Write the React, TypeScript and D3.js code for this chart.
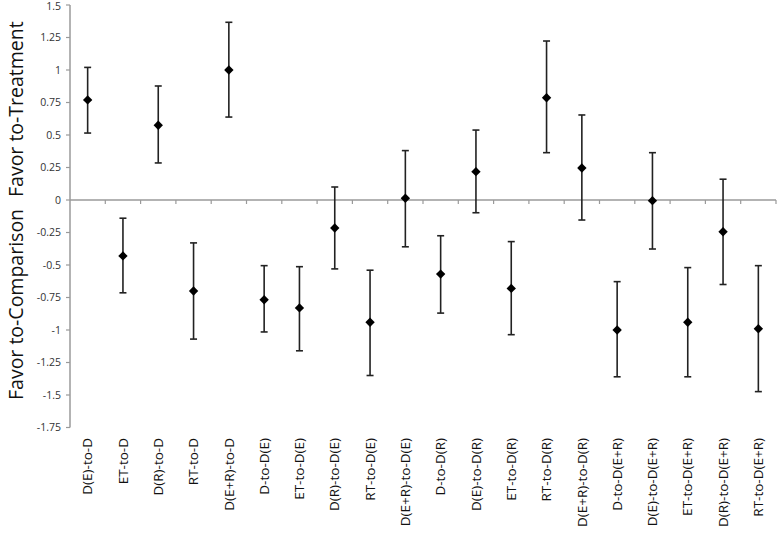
import React from "react";
import * as d3 from "d3";

const categories = [
  "D(E)-to-D", "ET-to-D", "D(R)-to-D", "RT-to-D", "D(E+R)-to-D",
  "D-to-D(E)", "ET-to-D(E)", "D(R)-to-D(E)", "RT-to-D(E)", "D(E+R)-to-D(E)",
  "D-to-D(R)", "D(E)-to-D(R)", "ET-to-D(R)", "RT-to-D(R)", "D(E+R)-to-D(R)",
  "D-to-D(E+R)", "D(E)-to-D(E+R)", "ET-to-D(E+R)", "D(R)-to-D(E+R)", "RT-to-D(E+R)",
];
const estimates = [
  0.77, -0.43, 0.575, -0.70, 1.0,
  -0.767, -0.83, -0.215, -0.94, 0.013,
  -0.57, 0.218, -0.68, 0.787, 0.246,
  -1.0, -0.005, -0.94, -0.244, -0.99,
];
const upperCI = [
  1.02, -0.14, 0.877, -0.33, 1.367,
  -0.505, -0.513, 0.10, -0.54, 0.38,
  -0.275, 0.538, -0.32, 1.223, 0.654,
  -0.628, 0.364, -0.52, 0.16, -0.505,
];
const lowerCI = [
  0.515, -0.714, 0.285, -1.07, 0.638,
  -1.015, -1.16, -0.53, -1.35, -0.36,
  -0.87, -0.098, -1.036, 0.364, -0.154,
  -1.36, -0.377, -1.36, -0.65, -1.474,
];
const yTicks = [1.5, 1.25, 1, 0.75, 0.5, 0.25, 0, -0.25, -0.5, -0.75, -1, -1.25, -1.5, -1.75];
const yTickLabels = ["1.5", "1.25", "1", "0.75", "0.5", "0.25", "0", "-0.25", "-0.5", "-0.75", "-1", "-1.25", "-1.5", "-1.75"];

const W = 778;
const H = 536;
const x0 = 70;
const x1 = 776;
const font = "'Open Sans', sans-serif";

export default function App() {
  const x = d3.scaleBand<string>().domain(categories).range([x0, x1]).padding(0);
  const y = d3.scaleLinear().domain([-1.75, 1.5]).range([427.5, 5]);
  const diamond = d3.symbol().type(d3.symbolDiamond2).size(56)();
  const y0 = y(0);
  const bw = x.bandwidth();
  const boundaries = d3.range(1, categories.length + 1).map((i) => x0 + i * bw);

  return (
    <svg width={W} height={H} style={{ position: "absolute", left: 0, top: 0, background: "#fff" }}>
      <rect x={0} y={0} width={W} height={H} fill="#fff" />
      {/* y axis */}
      <line x1={x0} x2={x0} y1={y(1.5)} y2={y(-1.75)} stroke="#9a9a9a" strokeWidth={1.5} />
      {yTicks.map((t, i) => (
        <g key={"yt" + i}>
          <line x1={x0 - 4} x2={x0} y1={y(t)} y2={y(t)} stroke="#9a9a9a" strokeWidth={1.2} />
          <text x={x0 - 9} y={Math.max(y(t), 6)} dy="0.35em" textAnchor="end" fontFamily={font} fontSize={10.5} fill="#333">
            {yTickLabels[i]}
          </text>
        </g>
      ))}
      {/* x axis at zero */}
      <line x1={x0} x2={x1} y1={y0} y2={y0} stroke="#9a9a9a" strokeWidth={1.5} />
      {boundaries.map((b, i) => (
        <line key={"xt" + i} x1={b} x2={b} y1={y0} y2={y0 + 4} stroke="#9a9a9a" strokeWidth={1.2} />
      ))}
      {/* error bars and points */}
      {categories.map((c, i) => {
        const cx = (x(c) as number) + bw / 2;
        return (
          <g key={"p" + i}>
            <line x1={cx} x2={cx} y1={y(upperCI[i])} y2={y(lowerCI[i])} stroke="#222" strokeWidth={1.6} />
            <line x1={cx - 3.5} x2={cx + 3.5} y1={y(upperCI[i])} y2={y(upperCI[i])} stroke="#222" strokeWidth={1.6} />
            <line x1={cx - 3.5} x2={cx + 3.5} y1={y(lowerCI[i])} y2={y(lowerCI[i])} stroke="#222" strokeWidth={1.6} />
            <path d={diamond as string} transform={`translate(${cx},${y(estimates[i])})`} fill="#000" />
          </g>
        );
      })}
      {/* x labels */}
      {categories.map((c, i) => {
        const cx = (x(c) as number) + bw / 2;
        return (
          <text
            key={"xl" + i}
            transform={`translate(${cx},438) rotate(-90)`}
            textAnchor="end"
            dy="0.35em"
            fontFamily={font}
            fontSize={13.5}
            fill="#111"
          >
            {c}
          </text>
        );
      })}
      {/* y axis titles */}
      <text transform={`translate(16,197) rotate(-90)`} dy="0.35em" textAnchor="start" fontFamily={font} fontSize={19.5} fill="#111">
        Favor to-Treatment
      </text>
      <text transform={`translate(16,400) rotate(-90)`} dy="0.35em" textAnchor="start" fontFamily={font} fontSize={19.5} fill="#111">
        Favor to-Comparison
      </text>
    </svg>
  );
}
